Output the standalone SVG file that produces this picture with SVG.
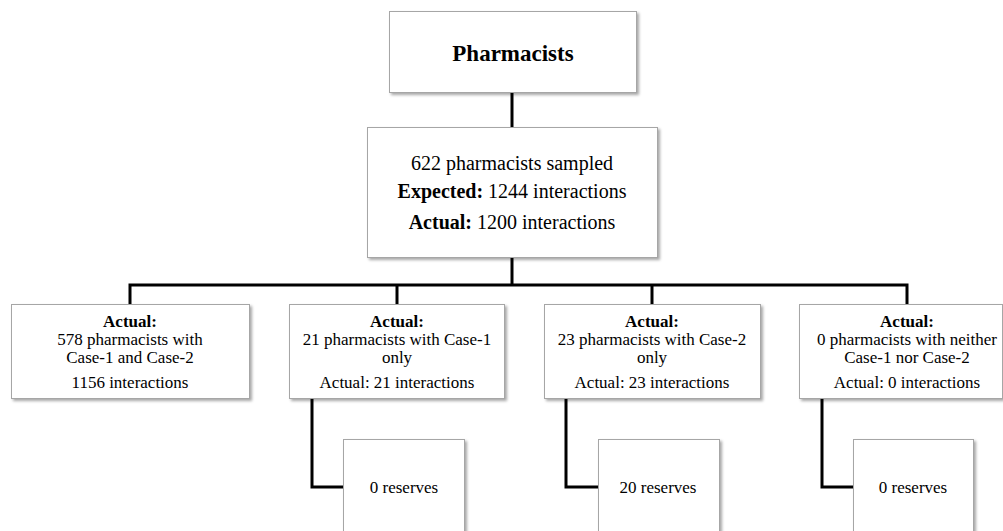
<svg xmlns="http://www.w3.org/2000/svg" width="1003" height="531" viewBox="0 0 1003 531">
<defs>
<filter id="sh" x="-10%" y="-10%" width="130%" height="130%">
<feGaussianBlur in="SourceAlpha" stdDeviation="1.5"/>
<feOffset dx="2" dy="2" result="b"/>
<feComponentTransfer><feFuncA type="linear" slope="0.35"/></feComponentTransfer>
<feMerge><feMergeNode/><feMergeNode in="SourceGraphic"/></feMerge>
</filter>
</defs>
<style>
.box{fill:#fff;stroke:#a6a6a6;stroke-width:1;filter:url(#sh)}
text{font-family:'Liberation Serif','Times New Roman','DejaVu Serif',serif;fill:#000;text-anchor:middle}
.s{font-size:17px}
.m{font-size:20px}
.b{font-weight:bold}
.c{fill:none;stroke:#000;stroke-width:3}
</style>
<rect width="1003" height="531" fill="#fff"/>
<g id="connectors">
<path class="c" d="M512 93V128"/>
<path class="c" d="M512 258V285"/>
<path class="c" d="M130 304V285H907V304"/>
<path class="c" d="M397 285V304"/>
<path class="c" d="M652 285V304"/>
<path class="c" d="M312 399V487H343"/>
<path class="c" d="M566 399V487H598"/>
<path class="c" d="M822 399V487H853"/>
</g>
<g id="pharmacists" font-family="Liberation Serif, serif">
<rect class="box" x="389.5" y="11.5" width="247" height="81"/>
<text class="b" x="513" y="61" font-size="23">Pharmacists</text>
</g>
<g id="sampled" font-family="Liberation Serif, serif">
<rect class="box" x="367.5" y="127.5" width="290" height="130"/>
<text class="m" x="512" y="170">622 pharmacists sampled</text>
<text class="m" x="512" y="198"><tspan class="b">Expected:</tspan> 1244 interactions</text>
<text class="m" x="512" y="229"><tspan class="b">Actual:</tspan> 1200 interactions</text>
</g>
<g id="both" font-family="Liberation Serif, serif">
<rect class="box" x="11.5" y="304.5" width="238" height="94"/>
<text class="s b" x="130" y="327">Actual:</text>
<text class="s" x="130" y="345">578 pharmacists with</text>
<text class="s" x="130" y="363">Case-1 and Case-2</text>
<text class="s" x="130" y="388">1156 interactions</text>
</g>
<g id="case1" font-family="Liberation Serif, serif">
<rect class="box" x="289.5" y="304.5" width="215" height="94"/>
<text class="s b" x="397" y="327">Actual:</text>
<text class="s" x="397" y="345">21 pharmacists with Case-1</text>
<text class="s" x="397" y="363">only</text>
<text class="s" x="397" y="388">Actual: 21 interactions</text>
</g>
<g id="case2" font-family="Liberation Serif, serif">
<rect class="box" x="544.5" y="304.5" width="216" height="94"/>
<text class="s b" x="652" y="327">Actual:</text>
<text class="s" x="652" y="345">23 pharmacists with Case-2</text>
<text class="s" x="652" y="363">only</text>
<text class="s" x="652" y="388">Actual: 23 interactions</text>
</g>
<g id="neither" font-family="Liberation Serif, serif">
<rect class="box" x="799.5" y="304.5" width="203" height="94"/>
<text class="s b" x="907" y="327">Actual:</text>
<text class="s" x="907" y="345">0 pharmacists with neither</text>
<text class="s" x="907" y="363">Case-1 nor Case-2</text>
<text class="s" x="907" y="388">Actual: 0 interactions</text>
</g>
<g id="reserves1" font-family="Liberation Serif, serif">
<rect class="box" x="343.5" y="439.5" width="121" height="110"/>
<text class="s" x="404" y="493">0 reserves</text>
</g>
<g id="reserves2" font-family="Liberation Serif, serif">
<rect class="box" x="598.5" y="439.5" width="121" height="110"/>
<text class="s" x="658" y="493">20 reserves</text>
</g>
<g id="reserves3" font-family="Liberation Serif, serif">
<rect class="box" x="853.5" y="439.5" width="120" height="110"/>
<text class="s" x="913" y="493">0 reserves</text>
</g>
</svg>
